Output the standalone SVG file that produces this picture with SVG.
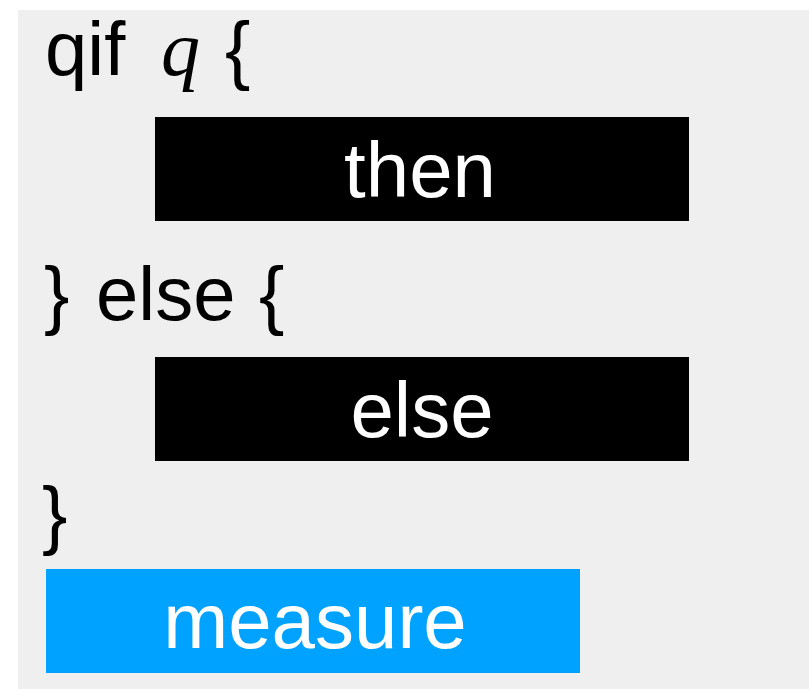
<svg xmlns="http://www.w3.org/2000/svg" width="809" height="689" viewBox="0 0 809 689">
<style>
.t{font-family:"Liberation Sans",Arial,sans-serif;font-size:76px;fill:#000}
.w{font-family:"Liberation Sans",Arial,sans-serif;font-size:78px;fill:#fff;text-anchor:middle}
.m{font-family:"Liberation Serif","Times New Roman",serif;font-style:italic;font-size:78px;fill:#000}
</style>
<rect x="0" y="0" width="809" height="689" fill="#fff"/>
<rect x="18" y="10" width="791" height="679" fill="#efefef"/>
<g id="header">
<text class="t" x="45" y="75" font-size="80">qif</text>
<text class="m" x="161" y="75">q</text>
<text class="t" x="225" y="75">{</text>
</g>
<g id="then">
<rect x="155" y="117" width="534" height="104" fill="#000"/>
<text class="w" x="420" y="197">then</text>
</g>
<g id="elseline">
<text class="t" x="44" y="320">}</text>
<text class="t" x="96" y="320">else</text>
<text class="t" x="259" y="320">{</text>
</g>
<g id="else">
<rect x="155" y="357" width="534" height="104" fill="#000"/>
<text class="w" x="422" y="437">else</text>
</g>
<g id="close">
<text class="t" x="42" y="540">}</text>
</g>
<g id="measure">
<rect x="46" y="569" width="534" height="104" fill="#00a2ff"/>
<text class="w" x="315" y="648">measure</text>
</g>
<g id="connectors"/>
</svg>
